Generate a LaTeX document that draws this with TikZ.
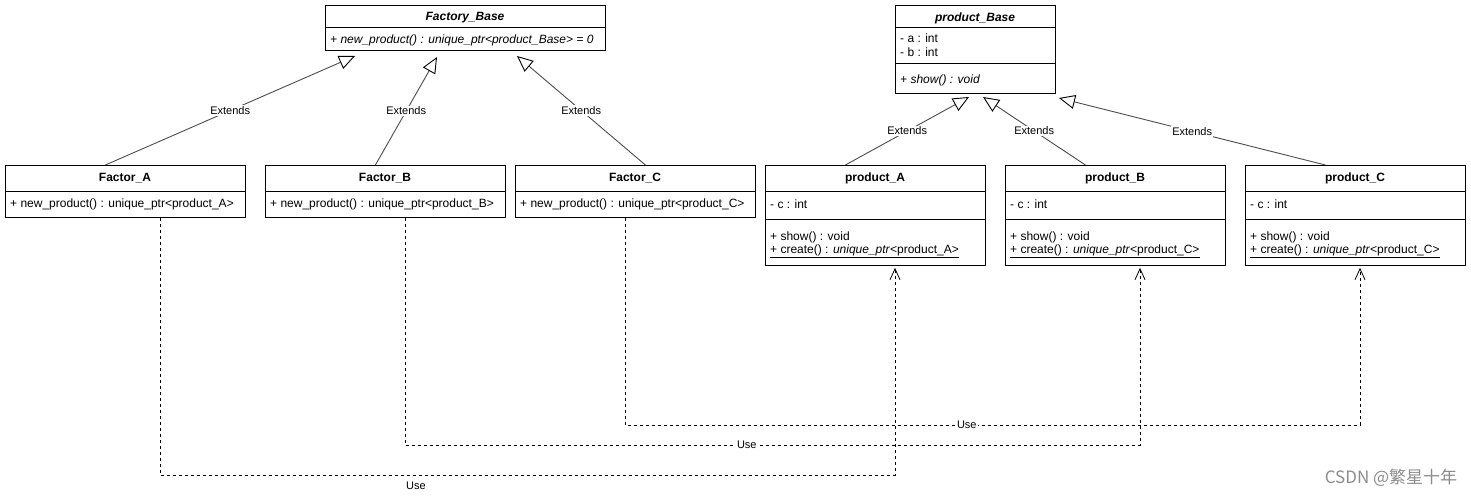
\documentclass[tikz,border=0pt]{standalone}
\usepackage{fontspec}
\setmainfont{Liberation Sans}
\newfontfamily\cjkfont{Noto Sans CJK SC}
\usetikzlibrary{arrows.meta}

\tikzset{
    classbox/.style={draw, rectangle, anchor=north west, inner sep=0pt, line width=0.8pt},
    ctitle/.style={font=\fontsize{12}{14}\selectfont\bfseries, inner sep=0pt},
    cmember/.style={font=\fontsize{12}{14}\selectfont, anchor=west, inner sep=0pt},
    extends/.style={draw=black!70, line width=0.9pt,
        -{Triangle[open, length=16pt, width=14pt, fill=white, color=black]}},
    uses/.style={dash pattern=on 3pt off 3pt, line width=0.8pt,
        -{Straight Barb[length=11pt, width=10pt]}},
    elabel/.style={font=\fontsize{11}{13}\selectfont, fill=white, inner sep=1pt},
}

\begin{document}
\begin{tikzpicture}[x=1pt, y=-1pt]
    \useasboundingbox (0, 0) rectangle (1471, 497);
    %\draw[lightgray] (0, 0) grid[step=50] (1471, 497);

    % factories
    \node[classbox, minimum width=280pt, minimum height=45pt] (fb) at (325, 5) {};
    \node[ctitle] (fbt) at (465, 18) {\textit{Factory\_Base}};
    \draw (325, 27) -- (605, 27);
    \node[cmember] (fbm) at (330, 40) {\textit{+ new\_product() : unique\_ptr<product\_Base> = 0}};

    \node[classbox, minimum width=240pt, minimum height=52pt] (fA) at (5, 165) {};
    \node[ctitle] (fAt) at (125, 178) {Factor\_A};
    \draw (5, 191) -- (245, 191);
    \node[cmember] (fAm) at (10, 204) {+ new\_product() : unique\_ptr<product\_A>};

    \node[classbox, minimum width=240pt, minimum height=52pt] (fB) at (265, 165) {};
    \node[ctitle] (fBt) at (385, 178) {Factor\_B};
    \draw (265, 191) -- (505, 191);
    \node[cmember] (fBm) at (270, 204) {+ new\_product() : unique\_ptr<product\_B>};

    \node[classbox, minimum width=240pt, minimum height=52pt] (fC) at (515, 165) {};
    \node[ctitle] (fCt) at (635, 178) {Factor\_C};
    \draw (515, 191) -- (755, 191);
    \node[cmember] (fCm) at (520, 204) {+ new\_product() : unique\_ptr<product\_C>};

    % products
    \node[classbox, minimum width=160pt, minimum height=88pt] (pb) at (895, 5) {};
    \node[ctitle] (pbt) at (975, 18) {\textit{product\_Base}};
    \draw (895, 27) -- (1055, 27);
    \node[cmember] (pbm1) at (900, 38) {- a : int};
    \node[cmember] (pbm2) at (900, 52) {- b : int};
    \draw (895, 63) -- (1055, 63);
    \node[cmember] (pbm3) at (900, 80) {\textit{+ show() : void}};

    \foreach \name/\lbl/\ret [count=\i from 0] in {pA/A/A, pB/B/C, pC/C/C} {
        \pgfmathsetmacro{\xl}{765 + 240*\i}
        \node[classbox, minimum width=220pt, minimum height=100pt] (\name) at (\xl, 165) {};
        \node[ctitle] (\name t) at (\xl + 110, 178) {product\_\lbl};
        \draw (\xl, 191) -- (\xl + 220, 191);
        \node[cmember] (\name m1) at (\xl + 5, 204) {- c : int};
        \draw (\xl, 219) -- (\xl + 220, 219);
        \node[cmember] (\name m2) at (\xl + 5, 237) {+ show() : void};
        \node[cmember] (\name m3) at (\xl + 5, 251)
            {\underline{+ create() : \textit{unique\_ptr}<product\_\ret>}};
    }

    % inheritance
    \coordinate (fbA) at (355, 56);
    \coordinate (fbB) at (437, 57);
    \coordinate (fbC) at (517, 56);
    \draw[extends] ([xshift=-20pt]fA.north) -- (fbA) node[elabel, midway] (eA) {Extends};
    \draw[extends] ([xshift=-10pt]fB.north) -- (fbB) node[elabel, midway] (eB) {Extends};
    \draw[extends] ([xshift=10pt]fC.north) -- (fbC) node[elabel, midway] (eC) {Extends};

    \coordinate (pbA) at (969, 97);
    \coordinate (pbB) at (983, 97);
    \coordinate (pbC) at (1059, 98);
    \draw[extends] ([xshift=-30pt]pA.north) -- (pbA) node[elabel, midway] (eD) {Extends};
    \draw[extends] ([xshift=-30pt]pB.north) -- (pbB) node[elabel, midway] (eE) {Extends};
    \draw[extends] ([xshift=-30pt]pC.north) -- (pbC) node[elabel, midway] (eF) {Extends};

    % usage
    \coordinate (uA1) at (160, 475);
    \coordinate (uA2) at (895, 475);
    \coordinate (uB1) at (405, 445);
    \coordinate (uB2) at (1140, 445);
    \coordinate (uC1) at (625, 425);
    \coordinate (uC2) at (1360, 425);
    \draw[uses] (fA.south -| uA1) -- (uA1) -- (uA2) -- ([yshift=-2pt]pA.south -| uA2);
    \draw[uses] (fB.south -| uB1) -- (uB1) -- node[elabel, pos=0.465] (lB) {Use} (uB2)
        -- ([yshift=-2pt]pB.south -| uB2);
    \draw[uses] (fC.south -| uC1) -- (uC1) -- node[elabel, pos=0.465] (lC) {Use} (uC2)
        -- ([yshift=-2pt]pC.south -| uC2);
    \node[elabel] (lA) at (416, 486) {Use};

    \node[text=black!45, font=\cjkfont\fontsize{17}{19}\selectfont] (wm) at (1391, 478) {CSDN @繁星十年};
\end{tikzpicture}
\end{document}
